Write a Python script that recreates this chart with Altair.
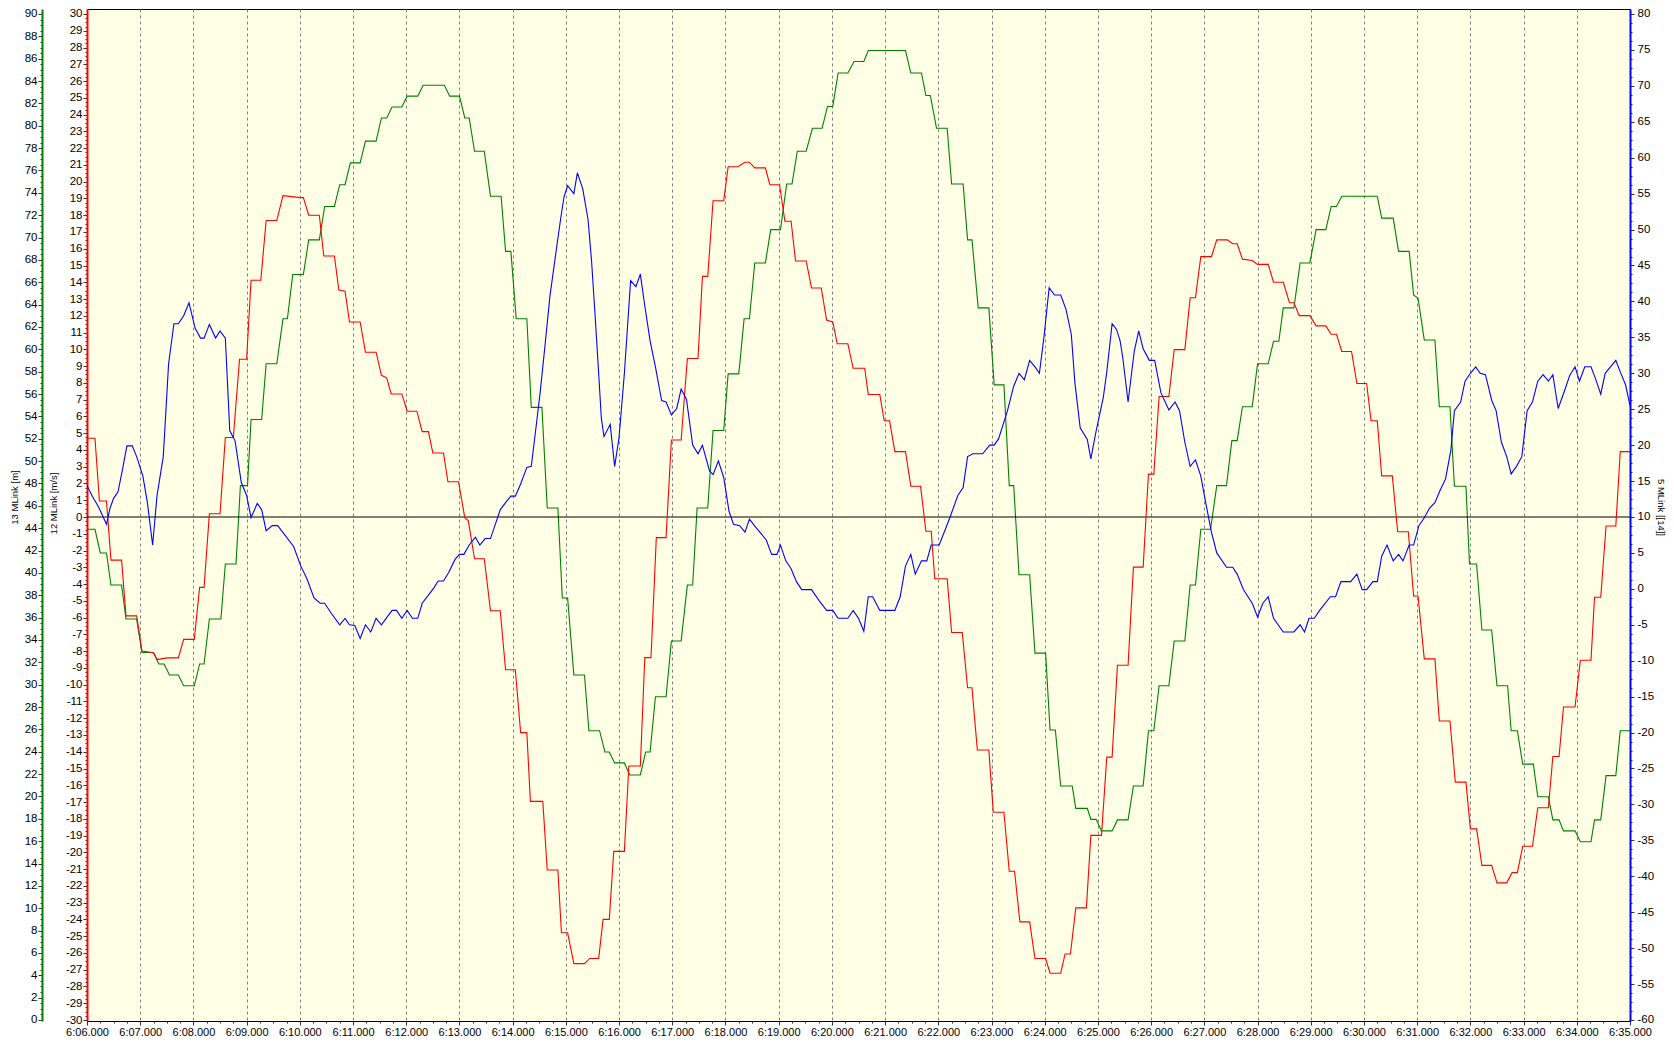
import altair as alt
import pandas as pd

# ---------------- data (time in seconds after 6:06,000) ----------------
red_t = [0, 9, 14, 22, 27, 39, 44, 56, 62, 75, 79, 90, 103, 109, 121, 127, 132, 138, 150, 156,
         165, 172, 180, 185, 196, 202, 214, 221, 241, 244, 250, 262, 267, 279, 284, 291, 296, 308, 314, 326,
         332, 338, 343, 355, 361, 372, 378, 385, 390, 402, 407, 419, 426, 430, 437, 448, 455, 466, 472, 483,
         489, 496, 500, 514, 519, 531, 535, 542, 549, 561, 567, 577, 582, 589, 594, 606, 611, 624, 629, 636,
         642, 653, 659, 670, 677, 689, 694, 700, 706, 718, 723, 734, 742, 747, 753, 765, 770, 781, 787, 794,
         799, 811, 817, 828, 834, 841, 846, 858, 864, 877, 881, 894, 899, 905, 911, 923, 929, 940, 946, 952,
         956, 970, 975, 987, 993, 998, 1004, 1017, 1022, 1034, 1040, 1046, 1052, 1063, 1069, 1081, 1086, 1098, 1103, 1109,
         1115, 1127, 1132, 1144, 1150, 1156, 1162, 1174, 1180, 1191, 1197, 1203, 1209, 1220, 1226, 1238, 1244, 1250, 1256, 1268,
         1274, 1286, 1292, 1297, 1303, 1314, 1320, 1332, 1338, 1349, 1356, 1361, 1367, 1379, 1386, 1397, 1403, 1409, 1415, 1426,
         1432, 1443, 1448, 1455, 1460, 1472, 1478, 1490, 1496, 1501, 1508, 1520, 1525, 1537, 1543, 1555, 1560, 1567, 1573, 1584,
         1590, 1601, 1607, 1613, 1619, 1630, 1636, 1648, 1653, 1660, 1665, 1678, 1684, 1696, 1700, 1707, 1713, 1724, 1729, 1740]
red_v = [4.70, 4.70, 0.95, 0.95, -2.57, -2.57, -5.90, -5.90, -8.0, -8.1, -8.5, -8.4, -8.4, -7.3, -7.3, -4.2, -4.2, 0.19, 0.19, 4.74,
         4.74, 9.41, 9.41, 14.12, 14.12, 17.68, 17.68, 19.17, 19.05, 19.05, 18.0, 18.0, 15.57, 15.57, 13.54, 13.47, 11.63, 11.63, 9.83, 9.83,
         8.45, 8.30, 7.34, 7.34, 6.31, 6.31, 5.09, 5.09, 3.82, 3.82, 2.10, 2.10, -0.04, -0.23, -2.49, -2.49, -5.59, -5.59, -9.11, -9.11,
         -12.86, -12.86, -16.96, -16.96, -21.05, -21.05, -24.80, -24.80, -26.64, -26.64, -26.33, -26.33, -24.0, -24.0, -19.94, -19.94, -14.85, -14.85, -8.39, -8.39,
         -1.23, -1.23, 4.59, 4.59, 9.45, 9.45, 14.35, 14.35, 18.86, 18.86, 20.89, 20.89, 21.16, 21.16, 20.82, 20.82, 19.82, 19.82, 17.64, 17.64,
         15.27, 15.27, 13.66, 13.66, 11.75, 11.63, 10.33, 10.33, 8.87, 8.87, 7.31, 7.31, 5.74, 5.74, 3.90, 3.90, 1.83, 1.83, -0.85, -0.85,
         -3.68, -3.68, -6.89, -6.89, -10.18, -10.18, -13.90, -13.90, -17.61, -17.61, -21.13, -21.13, -24.15, -24.15, -26.33, -26.33, -27.21, -27.21, -26.06, -26.06,
         -23.31, -23.31, -18.99, -18.99, -14.32, -14.32, -8.84, -8.84, -2.99, -2.99, 2.56, 2.56, 7.19, 7.19, 9.98, 9.98, 13.08, 13.08, 15.53, 15.53,
         16.53, 16.53, 16.30, 16.30, 15.38, 15.30, 15.07, 15.07, 14.00, 14.00, 12.78, 12.78, 12.01, 12.01, 11.40, 11.40, 10.90, 10.90, 9.87, 9.87,
         7.96, 7.96, 5.74, 5.74, 2.45, 2.45, -0.88, -0.88, -4.71, -4.71, -8.46, -8.46, -12.17, -12.17, -15.81, -15.81, -18.60, -18.60, -20.78, -20.78,
         -21.82, -21.82, -21.21, -21.21, -19.64, -19.64, -17.34, -17.34, -14.28, -14.28, -11.33, -11.33, -8.54, -8.54, -4.79, -4.79, -0.54, -0.54, 3.90, 3.90]

green_t = [0, 9, 15, 22, 27, 39, 44, 56, 62, 75, 81, 87, 93, 103, 109, 121, 127, 132, 138, 151,
           156, 168, 173, 181, 185, 197, 202, 214, 221, 226, 232, 244, 250, 262, 268, 279, 285, 291, 297, 308,
           314, 326, 332, 338, 344, 355, 361, 373, 379, 403, 409, 420, 426, 431, 437, 448, 455, 467, 472, 478,
           484, 496, 501, 513, 519, 531, 536, 542, 549, 561, 566, 578, 584, 589, 595, 606, 612, 624, 630, 635,
           641, 653, 659, 670, 677, 683, 688, 700, 706, 718, 723, 735, 741, 747, 753, 765, 771, 782, 789, 795,
           801, 811, 818, 829, 835, 841, 847, 858, 865, 876, 881, 923, 929, 941, 946, 951, 958, 970, 975, 988,
           993, 998, 1005, 1017, 1023, 1034, 1040, 1045, 1051, 1063, 1069, 1081, 1086, 1092, 1098, 1111, 1115, 1128, 1132, 1138,
           1144, 1156, 1162, 1174, 1180, 1191, 1197, 1203, 1209, 1220, 1226, 1238, 1244, 1250, 1256, 1267, 1274, 1285, 1291, 1297,
           1303, 1314, 1320, 1332, 1338, 1344, 1349, 1361, 1368, 1379, 1386, 1397, 1403, 1409, 1415, 1455, 1460, 1473, 1479, 1491,
           1496, 1501, 1508, 1520, 1525, 1537, 1542, 1555, 1559, 1567, 1573, 1584, 1590, 1602, 1606, 1613, 1619, 1631, 1636, 1648,
           1653, 1660, 1665, 1678, 1684, 1696, 1700, 1707, 1713, 1724, 1729, 1740]
green_v = [43.90, 43.90, 41.78, 41.78, 38.91, 38.91, 35.87, 35.87, 32.88, 32.88, 31.85, 31.85, 30.87, 30.87, 29.90, 29.90, 31.85, 31.85, 35.87, 35.87,
           40.80, 40.80, 47.81, 47.81, 53.72, 53.72, 58.71, 58.71, 62.73, 62.73, 66.69, 66.69, 69.79, 69.79, 72.78, 72.78, 74.73, 74.73, 76.68, 76.68,
           78.63, 78.63, 80.70, 80.70, 81.68, 81.68, 82.65, 82.65, 83.63, 83.63, 82.65, 82.65, 80.70, 80.70, 77.72, 77.72, 73.70, 73.70, 68.76, 68.76,
           62.73, 62.73, 54.81, 54.81, 45.80, 45.80, 37.76, 37.76, 30.87, 30.87, 25.88, 25.88, 23.98, 23.98, 23.0, 23.0, 21.92, 21.92, 23.98, 23.98,
           28.92, 28.92, 33.91, 33.91, 38.91, 38.91, 45.80, 45.80, 52.74, 52.74, 57.80, 57.80, 62.73, 62.73, 67.73, 67.73, 70.71, 70.71, 74.79, 74.79,
           77.72, 77.72, 79.78, 79.78, 81.73, 81.73, 84.72, 84.72, 85.75, 85.75, 86.73, 86.73, 84.72, 84.72, 82.71, 82.71, 79.78, 79.78, 74.79, 74.79,
           69.79, 69.79, 63.71, 63.71, 56.82, 56.82, 47.81, 47.81, 39.83, 39.83, 32.82, 32.82, 25.94, 25.94, 20.94, 20.94, 18.93, 18.93, 17.95, 17.95,
           16.92, 16.92, 17.90, 17.90, 20.94, 20.94, 25.88, 25.88, 29.90, 29.90, 33.91, 33.91, 38.91, 38.91, 43.90, 43.90, 47.81, 47.81, 51.83, 51.83,
           54.87, 54.87, 58.71, 58.71, 60.72, 60.72, 63.71, 63.71, 67.73, 67.73, 70.71, 70.71, 72.78, 72.78, 73.70, 73.70, 71.74, 71.74, 68.76, 68.76,
           64.86, 64.57, 60.84, 60.84, 54.87, 54.87, 47.75, 47.75, 40.80, 40.80, 34.89, 34.89, 29.90, 29.90, 25.88, 25.88, 22.89, 22.89, 19.97, 19.97,
           17.90, 17.90, 16.92, 16.92, 15.95, 15.95, 17.90, 17.90, 21.86, 21.86, 25.88, 25.88]

blue_t = [0, 6, 13, 22, 26, 30, 35, 40, 45, 51, 56, 63, 68, 74, 79, 86, 92, 98, 103, 109,
          115, 122, 128, 132, 138, 145, 150, 156, 161, 167, 174, 180, 185, 192, 197, 202, 209, 215, 233, 241,
          248, 256, 263, 268, 276, 285, 291, 296, 302, 308, 314, 320, 326, 332, 344, 349, 355, 361, 367, 373,
          378, 391, 396, 402, 408, 415, 420, 425, 431, 438, 443, 449, 455, 466, 472, 478, 483, 489, 496, 501,
          505, 511, 517, 522, 528, 534, 538, 542, 549, 553, 559, 565, 569, 573, 577, 580, 583, 590, 595, 600,
          606, 613, 619, 624, 629, 635, 641, 648, 653, 659, 665, 670, 676, 683, 689, 694, 702, 706, 712, 718,
          724, 729, 736, 742, 747, 754, 766, 772, 778, 782, 788, 794, 800, 806, 817, 826, 834, 841, 847, 858,
          864, 870, 876, 881, 886, 894, 911, 917, 923, 929, 934, 941, 947, 952, 961, 973, 982, 988, 993, 999,
          1010, 1018, 1023, 1028, 1038, 1045, 1051, 1057, 1063, 1069, 1074, 1079, 1085, 1091, 1098, 1104, 1110, 1114, 1120, 1128,
          1132, 1138, 1146, 1150, 1156, 1161, 1165, 1168, 1174, 1181, 1186, 1191, 1198, 1204, 1211, 1220, 1227, 1232, 1238, 1244,
          1250, 1256, 1262, 1268, 1274, 1285, 1292, 1297, 1304, 1314, 1320, 1326, 1332, 1338, 1349, 1361, 1368, 1373, 1378, 1384,
          1390, 1402, 1408, 1414, 1425, 1432, 1438, 1443, 1450, 1455, 1460, 1466, 1473, 1479, 1484, 1491, 1496, 1502, 1508, 1514,
          1520, 1526, 1532, 1538, 1542, 1549, 1554, 1560, 1566, 1571, 1577, 1584, 1589, 1595, 1601, 1606, 1612, 1618, 1624, 1630,
          1636, 1642, 1648, 1653, 1659, 1666, 1672, 1678, 1683, 1689, 1696, 1701, 1707, 1712, 1718, 1724, 1729, 1735, 1740]
blue_v = [14.4, 12.9, 11.4, 9.0, 11.25, 12.6, 13.5, 16.6, 19.9, 19.9, 18.4, 15.7, 12.1, 6.1, 13.0, 18.4, 31.3, 36.9, 36.9, 38.0,
          39.8, 36.25, 34.9, 34.9, 36.8, 34.9, 35.9, 34.9, 22.0, 20.6, 14.8, 13.0, 9.9, 11.9, 11.0, 8.1, 8.8, 8.8, 5.9, 3.2,
          1.4, -1.25, -2.0, -2.0, -3.5, -5.0, -4.1, -5.0, -5.1, -6.9, -5.0, -6.0, -4.1, -5.0, -3.0, -3.0, -4.1, -3.0, -4.1, -4.1,
          -2.0, 0.1, 1.1, 1.1, 2.3, 4.1, 4.8, 4.8, 6.1, 7.2, 6.1, 7.0, 7.0, 11.0, 12.0, 12.9, 12.9, 14.6, 16.9, 17.05,
          21.1, 27.3, 34.5, 40.7, 46.1, 51.4, 54.6, 56.1, 55.0, 57.9, 55.7, 51.4, 45.6, 38.0, 30.0, 23.75, 21.2, 22.9, 17.05, 21.1,
          30.0, 42.9, 42.05, 43.8, 39.4, 34.5, 30.9, 26.2, 26.0, 24.2, 25.1, 27.8, 26.4, 20.0, 18.8, 20.0, 16.4, 15.9, 17.8, 15.5,
          10.8, 9.0, 8.8, 7.9, 9.7, 8.6, 6.8, 4.8, 4.8, 6.1, 3.9, 2.8, 1.0, -0.1, -0.1, -1.7, -3.0, -3.0, -4.1, -4.1,
          -3.0, -4.1, -5.9, -1.1, -1.1, -3.0, -3.0, -1.1, 3.2, 4.8, 2.05, 3.9, 3.9, 6.1, 6.1, 9.9, 13.0, 14.1, 18.4, 18.8,
          18.8, 20.0, 20.0, 20.9, 24.8, 28.2, 30.0, 29.1, 31.8, 30.9, 30.0, 34.9, 41.9, 40.9, 40.9, 38.9, 35.4, 28.7, 22.4, 20.8,
          18.1, 22.0, 26.6, 30.2, 36.9, 36.1, 34.5, 32.2, 26.0, 33.1, 35.9, 33.4, 31.8, 31.8, 27.3, 24.9, 26.0, 24.8, 20.4, 17.05,
          17.95, 15.7, 11.7, 7.9, 5.0, 3.0, 3.0, 2.05, -0.1, -2.0, -3.9, -2.0, -1.1, -4.1, -6.0, -6.0, -5.0, -6.0, -4.1, -4.1,
          -3.0, -1.1, -1.1, 1.0, 1.0, 2.05, -0.1, -0.1, 1.0, 1.0, 4.55, 6.1, 3.9, 4.8, 3.9, 6.1, 6.1, 8.8, 9.9, 11.25,
          12.0, 13.75, 15.3, 19.3, 24.8, 26.0, 28.9, 30.0, 30.9, 30.0, 29.8, 26.25, 24.8, 20.4, 18.4, 16.0, 17.05, 18.4, 24.8, 26.0,
          28.9, 29.8, 28.9, 29.8, 25.1, 27.5, 29.7, 30.9, 28.9, 30.9, 30.9, 29.3, 27.1, 30.0, 30.9, 31.8, 30.2, 28.4, 25.5]

zero_level = [0.0]

# tick positions (major + 3 minor between each pair)
x_ticks = list(range(0, 1741, 15))
red_ticks = [i * 0.25 for i in range(-120, 121)]
green_ticks = [i * 0.5 for i in range(0, 181)]
blue_ticks = [-60 + i * 1.25 for i in range(0, 113)]

# ---------------- layout ----------------
W, H = 1543, 1012
FONT = "Liberation Sans"
x_dom = [0, 1740]
red_dom = [-30.0596, 30.2982]
green_dom = [-0.0895, 90.4473]
blue_dom = [-60.1392, 80.6958]

df_red = pd.DataFrame({"t": red_t, "v": red_v})
df_green = pd.DataFrame({"t": green_t, "v": green_v})
df_blue = pd.DataFrame({"t": blue_t, "v": blue_v})
df_zero = pd.DataFrame({"z": zero_level})

xscale = alt.Scale(domain=x_dom, nice=False, zero=False)

x_axis = alt.Axis(
    orient="bottom",
    values=x_ticks,
    labelExpr="datum.value % 60 === 0 ? '6:' + (floor(datum.value/60)+6 < 10 ? '0' : '') + toString(floor(datum.value/60)+6) + ',000' : ''",
    tickSize={"condition": {"test": "datum.value % 60 === 0", "value": 4}, "value": 2},
    tickColor="#333333",
    domainColor="black",
    domainWidth=1,
    grid=True,
    gridColor="#808080",
    gridDash=[3, 3],
    gridOpacity={"condition": {"test": "datum.value % 60 === 0", "value": 1}, "value": 0},
    labelPadding=1,
    labelFlush=False,
    labelOverlap=False,
    labelFontSize=11,
    title=None,
)


def yaxis(values, major, title, orient, offset, domain_color, title_x, title_y, angle):
    return alt.Axis(
        orient=orient,
        offset=offset,
        values=values,
        labelExpr=f"datum.value % {major} === 0 ? toString(datum.value) : ''",
        tickSize={"condition": {"test": f"datum.value % {major} === 0", "value": 4}, "value": 2},
        tickColor="#333333",
        domainColor=domain_color,
        domainWidth=2,
        grid=False,
        labelPadding=1 if orient == "left" else 3,
        labelOverlap=False,
        labelFlush=False,
        labelFontSize=11.5,
        title=title,
        titleFontSize=9.5,
        titleAngle=angle,
        titleX=title_x,
        titleY=title_y,
        titleAlign="center",
        titleBaseline="middle",
    )


zero = alt.Chart(df_zero).mark_rule(color="black", strokeWidth=1).encode(
    y=alt.Y("z:Q", scale=alt.Scale(domain=red_dom, nice=False, zero=False), axis=None)
)

green = alt.Chart(df_green).mark_line(color="#008000", strokeWidth=1.1, clip=True).encode(
    x=alt.X("t:Q", scale=xscale, axis=x_axis),
    y=alt.Y("v:Q", scale=alt.Scale(domain=green_dom, nice=False, zero=False),
            axis=yaxis(green_ticks, 2, "13 MLink [m]", "left", 45, "#008000", -28, 488, -90)),
)

red = alt.Chart(df_red).mark_line(color="#FF0000", strokeWidth=1.1, clip=True).encode(
    x=alt.X("t:Q", scale=xscale, axis=None),
    y=alt.Y("v:Q", scale=alt.Scale(domain=red_dom, nice=False, zero=False),
            axis=yaxis(red_ticks, 1, "12 MLink [m/s]", "left", 0, "#FF0000", -34, 494, -90)),
)

blue = alt.Chart(df_blue).mark_line(color="#0000FF", strokeWidth=1.1, clip=True).encode(
    x=alt.X("t:Q", scale=xscale, axis=None),
    y=alt.Y("v:Q", scale=alt.Scale(domain=blue_dom, nice=False, zero=False),
            axis=yaxis(blue_ticks, 5, "5 MLink [[14]]", "right", 0, "#0000FF", 30, 498, 90)),
)

chart = (
    alt.layer(green, zero, red, blue)
    .resolve_scale(y="independent")
    .resolve_axis(x="independent")
    .properties(
        width=W,
        height=H,
        padding={"left": 79, "top": 1, "right": 36, "bottom": 15},
        autosize=alt.AutoSizeParams(type="none"),
        background="white",
    )
    .configure_view(fill="#FFFFE5", stroke="black", strokeWidth=1)
    .configure_axis(
        labelFont=FONT,
        titleFont=FONT,
        titleFontWeight="normal",
        labelColor="black",
        titleColor="black",
    )
)

chart.save("out.html", embed_options={"renderer": "svg", "actions": False})
